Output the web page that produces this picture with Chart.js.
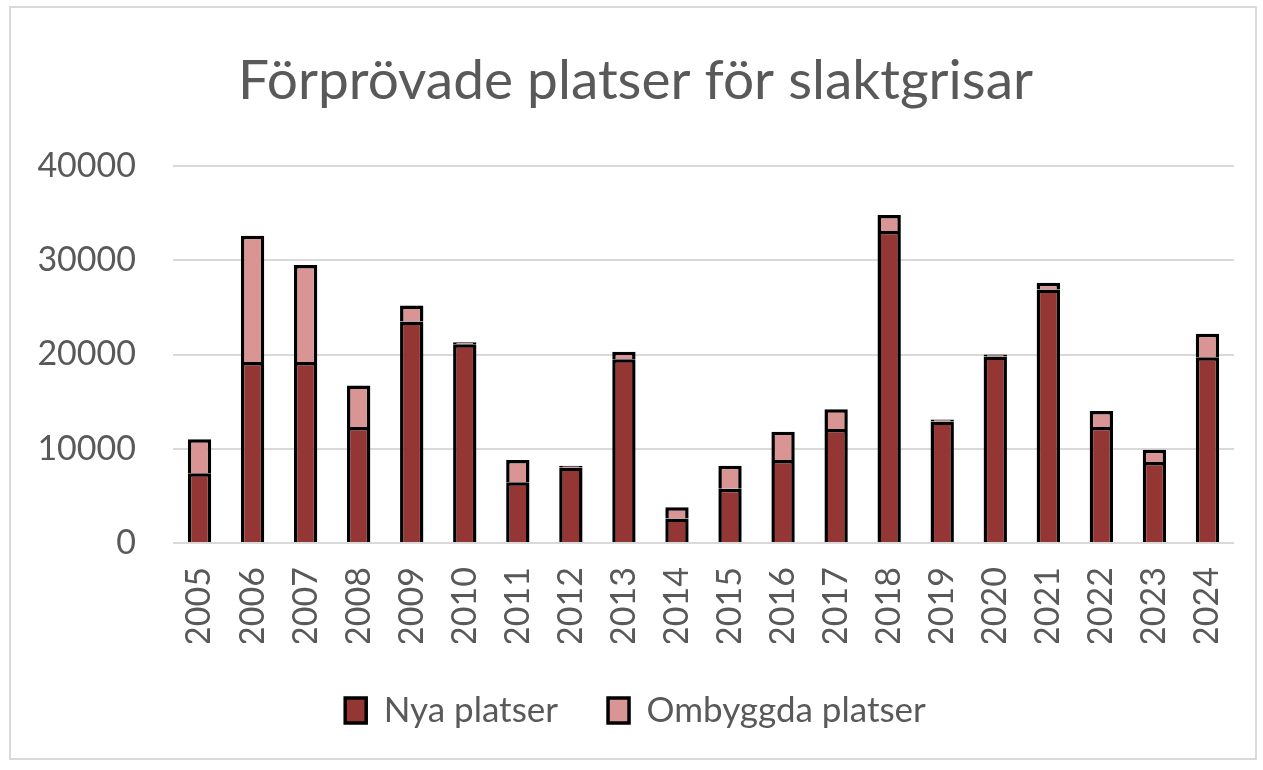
<!DOCTYPE html>
<html>
<head>
<meta charset="utf-8">
<script src="https://cdn.jsdelivr.net/npm/chart.js@4"></script>
<style>
  body { margin: 0; background: #fff; }
  #wrap { position: absolute; left: 0; top: 0; width: 1263px; height: 770px; }
  #frame { position: absolute; left: 9px; top: 6px; width: 1244px; height: 750px;
           border: 2px solid #d9d9d9; pointer-events: none; }
</style>
</head>
<body>
<div id="frame"></div>
<div id="wrap"><canvas id="Chart"></canvas></div>
<script>
// x-axis categories
var years = ['2005','2006','2007','2008','2009','2010','2011','2012','2013','2014',
             '2015','2016','2017','2018','2019','2020','2021','2022','2023','2024'];
// new places (bottom part of each bar)
var nya = [7400,19200,19200,12300,23500,21100,6450,8000,19500,2600,
           5750,8800,12100,33100,12900,19800,26900,12300,8600,19700];
// rebuilt places (stacked on top)
var ombyggda = [3600,13400,10300,4400,1700,200,2350,200,800,1200,
                2450,3000,2100,1700,200,200,700,1700,1300,2500];
var yTicks = [0,10000,20000,30000,40000];

var textColor = '#595959';
var font = 'Lato';

var ctx = document.getElementById('Chart');
new Chart(ctx, {
  type: 'bar',
  data: {
    labels: years,
    datasets: [
      {
        label: 'Nya platser',
        data: nya,
        backgroundColor: '#943634',
        borderColor: '#000000',
        borderWidth: 3.5,
        barPercentage: 0.44,
        categoryPercentage: 1
      },
      {
        label: 'Ombyggda platser',
        data: ombyggda,
        backgroundColor: '#d99594',
        borderColor: '#000000',
        borderWidth: 3.5,
        barPercentage: 0.44,
        categoryPercentage: 1
      }
    ]
  },
  options: {
    responsive: true,
    maintainAspectRatio: false,
    animation: false,
    layout: { autoPadding: false, padding: { left: 37, right: 29, top: 0, bottom: 32 } },
    plugins: {
      title: {
        display: true,
        text: 'Förprövade platser för slaktgrisar',
        color: textColor,
        font: { family: font, size: 55, weight: 'normal' },
        padding: { top: 48, bottom: 52 }
      },
      legend: {
        position: 'bottom',
        labels: {
          color: textColor,
          font: { family: font, size: 35 },
          boxWidth: 21,
          boxHeight: 25,
          padding: 50
        }
      },
      tooltip: { enabled: false }
    },
    scales: {
      x: {
        stacked: true,
        grid: { display: false, drawTicks: false },
        border: { display: false },
        ticks: {
          color: textColor,
          font: { family: font, size: 34 },
          minRotation: 90,
          maxRotation: 90,
          padding: 24
        },
        afterFit: function (scale) {
          scale.height = 100;
          scale.paddingLeft = 0;
          scale.paddingRight = 0;
        }
      },
      y: {
        stacked: true,
        min: 0,
        max: 40000,
        grid: { color: '#d9d9d9', lineWidth: 2, drawTicks: false },
        border: { display: false },
        afterBuildTicks: function (scale) {
          scale.ticks = yTicks.map(function (v) { return { value: v }; });
        },
        afterFit: function (scale) { scale.width = 136; },
        ticks: {
          color: textColor,
          font: { family: font, size: 34 },
          padding: 37,
          callback: function (v) { return String(v); }
        }
      }
    }
  }
});
</script>
</body>
</html>
